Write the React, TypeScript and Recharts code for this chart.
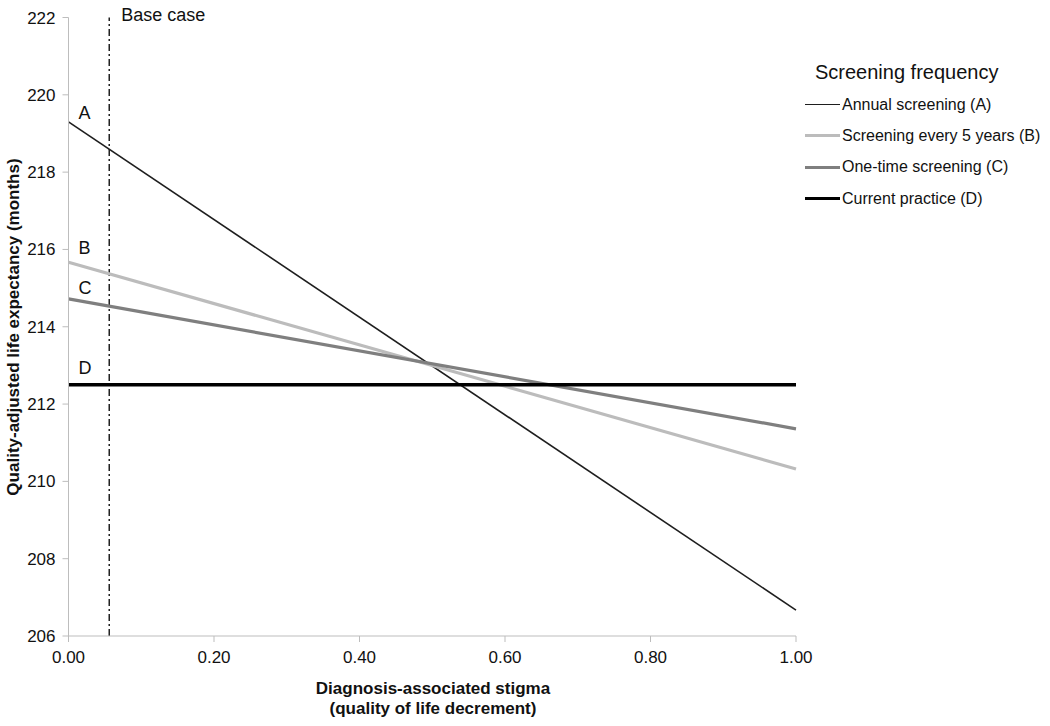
import React from "react";
import { LineChart, Line, XAxis, YAxis, ReferenceLine } from "recharts";

const stigmaX = [0, 1];
const annualA = [219.3, 206.67];
const every5B = [215.67, 210.32];
const oneTimeC = [214.72, 211.36];
const currentD = [212.5, 212.5];
const xTicks = [0, 0.2, 0.4, 0.6, 0.8, 1.0];
const yTicks = [206, 208, 210, 212, 214, 216, 218, 220, 222];
const baseCase = 0.056;

const seriesNames = [
  "Annual screening (A)",
  "Screening every 5 years (B)",
  "One-time screening (C)",
  "Current practice (D)",
];
const seriesLetters = ["A", "B", "C", "D"];

const data = stigmaX.map((x, i) => ({
  x,
  A: annualA[i],
  B: every5B[i],
  C: oneTimeC[i],
  D: currentD[i],
}));

const styles = [
  { key: "A", color: "#1e1e1e", width: 1.6, dy: -3 },
  { key: "B", color: "#bcbcbc", width: 3.2, dy: -8 },
  { key: "C", color: "#7f7f7f", width: 3.2, dy: -5 },
  { key: "D", color: "#000000", width: 3.6, dy: -11 },
];

const FONT = "'Liberation Sans', Arial, sans-serif";

const makeLabel = (letter: string, dy: number) => (props: any) => {
  const { x, y, index } = props;
  if (index !== 0) return null;
  return (
    <text x={x + 10} y={y + dy} fontSize={18} fill="#111" fontFamily={FONT}>
      {letter}
    </text>
  );
};

const LegendBox = () => (
  <div
    style={{
      position: "absolute",
      left: 805,
      top: 55,
      width: 245,
      fontFamily: FONT,
      color: "#111",
    }}
  >
    <div style={{ fontSize: 20, marginLeft: 10, height: 34, lineHeight: "34px" }}>
      Screening frequency
    </div>
    {styles.map((s, i) => (
      <div key={s.key} style={{ display: "flex", alignItems: "center", height: 31.3 }}>
        <div
          style={{
            width: 35,
            height: 0,
            borderTop: `${s.width}px solid ${s.color}`,
            marginRight: 2,
          }}
        />
        <span style={{ fontSize: 16 }}>{seriesNames[i]}</span>
      </div>
    ))}
  </div>
);

export default function App() {
  return (
    <div style={{ position: "absolute", left: 0, top: 0, width: 1050, height: 726, background: "#fff" }}>
      <LineChart
        width={1050}
        height={726}
        data={data}
        margin={{ top: 17.5, right: 254, bottom: 0, left: 0 }}
      >
        <XAxis
          dataKey="x"
          type="number"
          domain={[0, 1]}
          ticks={xTicks}
          tickFormatter={(v: number) => v.toFixed(2)}
          height={90}
          stroke="#bdbdbd"
          tickSize={6}
          tickMargin={9}
          tick={{ fill: "#111", fontSize: 17, fontFamily: FONT }}
          label={() => (
            <g>
              <text x={433} y={694} textAnchor="middle" fontSize={17} fontWeight="bold" fontFamily={FONT} fill="#111">
                Diagnosis-associated stigma
              </text>
              <text x={433} y={714} textAnchor="middle" fontSize={17} fontWeight="bold" fontFamily={FONT} fill="#111">
                (quality of life decrement)
              </text>
            </g>
          )}
        />
        <YAxis
          type="number"
          domain={[206, 222]}
          ticks={yTicks}
          width={68.5}
          stroke="#bdbdbd"
          tickSize={6}
          tickMargin={7}
          interval={0}
          tick={{ fill: "#111", fontSize: 17, fontFamily: FONT }}
          label={() => (
            <text
              x={19}
              y={327}
              transform="rotate(-90, 19, 327)"
              textAnchor="middle"
              fontSize={17}
              fontWeight="bold"
              fontFamily={FONT}
              fill="#111"
            >
              Quality-adjusted life expectancy (months)
            </text>
          )}
        />
        <ReferenceLine
          x={baseCase}
          stroke="#222"
          strokeWidth={1.5}
          strokeDasharray="7 3 2 3"
          label={(props: any) => (
            <text x={props.viewBox.x + 12} y={21} fontSize={18} fontFamily={FONT} fill="#111">
              Base case
            </text>
          )}
        />
        {styles.map((s, i) => (
          <Line
            key={s.key}
            dataKey={s.key}
            name={seriesNames[i]}
            stroke={s.color}
            strokeWidth={s.width}
            dot={false}
            activeDot={false}
            isAnimationActive={false}
            label={makeLabel(seriesLetters[i], s.dy)}
          />
        ))}
      </LineChart>
      <LegendBox />
    </div>
  );
}
